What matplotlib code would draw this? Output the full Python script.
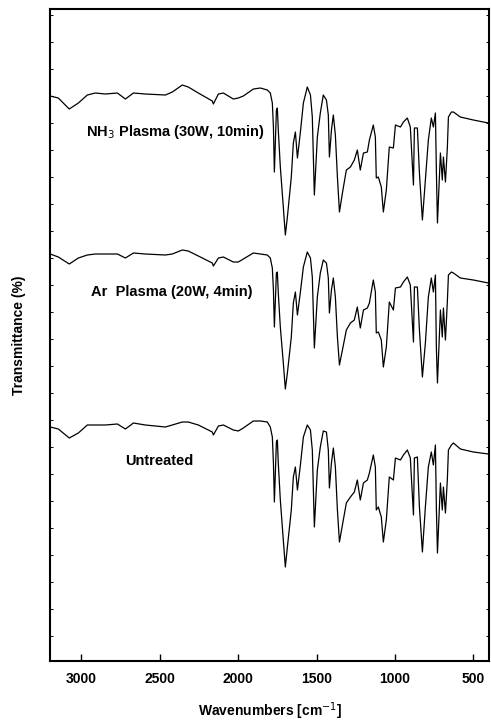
import numpy as np
import matplotlib
matplotlib.use("Agg")
import matplotlib.pyplot as plt

plt.rcParams['font.family'] = ['Liberation Sans', 'DejaVu Sans']

# wavenumber grid (cm-1)
wavenumber = [3198, 3147, 3077, 3019, 2962, 2911, 2847, 2770, 2719, 2668,
              2592, 2464, 2420, 2356, 2318, 2254, 2165, 2158, 2126, 2094,
              2031, 1999, 1967, 1903, 1858, 1814, 1795, 1782, 1775, 1769,
              1756, 1750, 1744, 1731, 1712, 1699, 1686, 1661, 1648, 1635,
              1622, 1603, 1584, 1559, 1539, 1527, 1514, 1495, 1476, 1457,
              1437, 1425, 1418, 1405, 1393, 1380, 1367, 1354, 1335, 1310,
              1284, 1259, 1240, 1221, 1201, 1176, 1163, 1138, 1125, 1119,
              1106, 1087, 1074, 1055, 1036, 1010, 997, 965, 946, 921,
              902, 882, 876, 857, 844, 825, 806, 787, 768, 755,
              742, 736, 729, 710, 698, 691, 678, 666, 659, 640,
              627, 583, 500, 404]

# transmittance, arbitrary units (curves are stacked)
t_nh3 = [565, 563, 552, 558, 566, 568, 567, 568, 562, 568,
         567, 566, 569, 576, 574, 568, 560, 557, 567, 568,
         562, 563, 565, 572, 573, 571, 568, 558, 534, 489,
         551, 553, 531, 494, 454, 426, 444, 484, 518, 529,
         503, 529, 558, 574, 566, 544, 466, 524, 548, 566,
         561, 546, 504, 531, 546, 526, 484, 449, 468, 491,
         494, 501, 511, 491, 508, 509, 521, 536, 524, 483,
         484, 474, 449, 471, 514, 513, 536, 534, 539, 543,
         534, 476, 533, 533, 488, 441, 481, 521, 543, 534,
         548, 491, 438, 508, 481, 504, 479, 513, 544, 549,
         549, 544, 541, 538]

t_ar = [407, 404, 397, 403, 406, 407, 407, 407, 403, 408,
        407, 406, 407, 411, 410, 405, 398, 395, 403, 404,
        399, 399, 402, 408, 407, 406, 403, 393, 371, 334,
        388, 389, 368, 334, 298, 272, 288, 324, 358, 369,
        346, 369, 394, 409, 403, 384, 313, 364, 388, 401,
        398, 383, 348, 371, 383, 364, 324, 296, 311, 331,
        338, 341, 354, 333, 351, 353, 358, 381, 369, 328,
        329, 321, 294, 314, 359, 351, 373, 374, 379, 384,
        376, 319, 374, 374, 331, 284, 318, 364, 383, 369,
        386, 314, 278, 351, 324, 353, 321, 359, 386, 389,
        388, 383, 381, 378]

t_untreated = [234, 232, 223, 228, 236, 236, 236, 237, 232, 238,
               236, 234, 236, 239, 239, 236, 229, 226, 235, 236,
               231, 230, 233, 240, 240, 239, 234, 224, 198, 159,
               219, 221, 198, 161, 121, 94, 114, 151, 184, 194,
               171, 196, 224, 236, 231, 211, 134, 191, 214, 230,
               229, 211, 173, 198, 213, 194, 151, 119, 136, 158,
               164, 169, 181, 161, 178, 181, 188, 206, 194, 151,
               154, 144, 119, 141, 184, 181, 203, 201, 206, 211,
               203, 146, 203, 204, 154, 109, 154, 194, 209, 196,
               216, 154, 108, 178, 151, 174, 148, 181, 211, 216,
               218, 212, 209, 207]

labels = ["NH$_3$ Plasma (30W, 10min)", "Ar  Plasma (20W, 4min)", "Untreated"]
label_x = [2400, 2426, 2503]
label_y = [529, 369, 200]

fig = plt.figure(figsize=(4.91, 7.27), dpi=100)
ax = fig.add_axes([0.1018, 0.0908, 0.8942, 0.8968])

for t in [t_nh3, t_ar, t_untreated]:
    ax.plot(wavenumber, t, color='black', lw=0.9)

for lab, lx, ly in zip(labels, label_x, label_y):
    ax.text(lx, ly, lab, ha='center', va='center', fontsize=10.5, fontweight='bold')

ax.set_xlim(3200, 400)
ax.set_ylim(0, 652)
ax.set_xticks([3000, 2500, 2000, 1500, 1000, 500])
ax.set_yticks(np.arange(25, 652, 27))
ax.set_yticklabels([])
ax.tick_params(axis='x', direction='in', length=5, width=1, labelsize=10, pad=8)
ax.tick_params(axis='y', direction='in', length=2, width=0.7, right=True)
for lbl in ax.get_xticklabels():
    lbl.set_fontweight('bold')
for sp in ax.spines.values():
    sp.set_linewidth(1.5)

ax.set_xlabel("Wavenumbers [cm$^{-1}$]", fontsize=10, fontweight='bold', labelpad=10)
ax.set_ylabel("Transmittance (%)", fontsize=10, fontweight='bold', labelpad=14)

fig.savefig("out.png", dpi=100)
